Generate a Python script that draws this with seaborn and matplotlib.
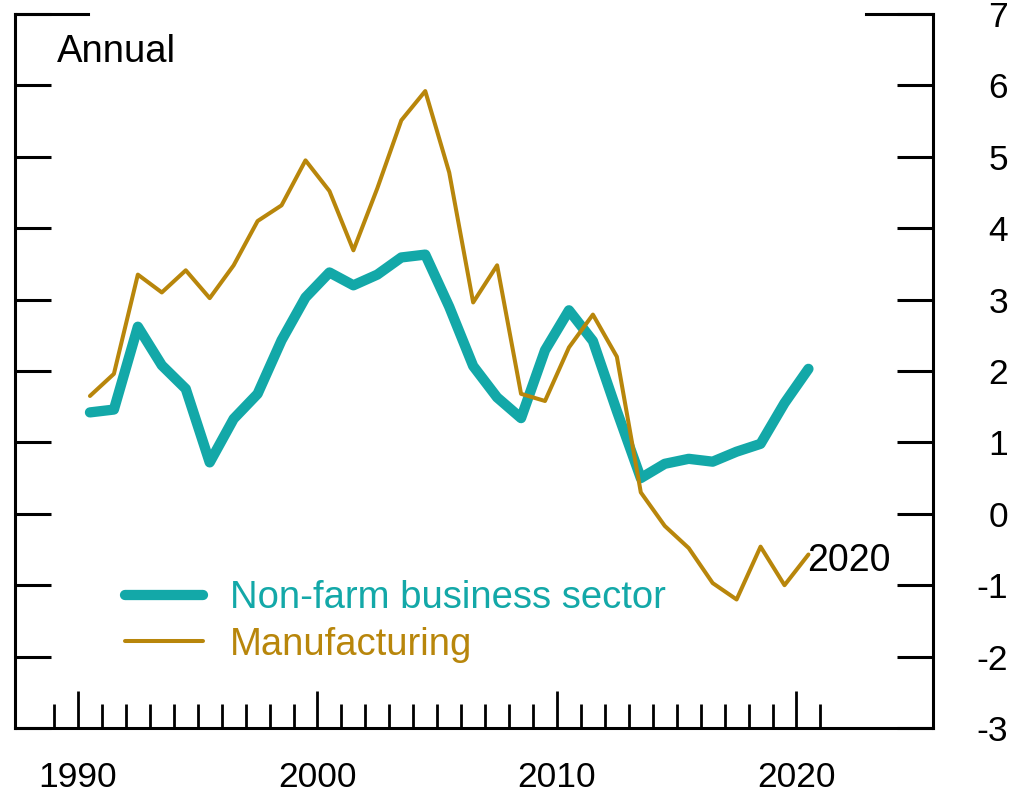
import numpy as np
import pandas as pd
import matplotlib
matplotlib.use("Agg")
import matplotlib.pyplot as plt
from matplotlib.ticker import FixedLocator
import seaborn as sns

sns.set_theme(style="white")
plt.rcParams["font.family"] = ["Liberation Sans", "DejaVu Sans"]
plt.rcParams["axes.unicode_minus"] = False

# data (annual, % change)
years = list(range(1990, 2021))
nonfarm = [1.42, 1.46, 2.62, 2.08, 1.75, 0.72, 1.33, 1.68, 2.43, 3.03,
           3.38, 3.20, 3.35, 3.59, 3.63, 2.90, 2.07, 1.63, 1.34, 2.29,
           2.85, 2.42, 1.44, 0.50, 0.70, 0.77, 0.73, 0.87, 0.98, 1.55,
           2.03]
manufacturing = [1.65, 1.96, 3.35, 3.10, 3.41, 3.02, 3.48, 4.10, 4.32, 4.95,
                 4.52, 3.69, 4.56, 5.51, 5.92, 4.78, 2.96, 3.48, 1.68, 1.58,
                 2.33, 2.79, 2.20, 0.30, -0.17, -0.48, -0.97, -1.20, -0.46, -1.00,
                 -0.57]
series_names = ["Non-farm business sector", "Manufacturing"]
colors = ["#13a8a8", "#b8860b"]

df = pd.DataFrame({"year": np.array(years) + 0.5,
                   series_names[0]: nonfarm,
                   series_names[1]: manufacturing})

fig = plt.figure(figsize=(10.2, 7.98), dpi=100)
ax = fig.add_axes([0.0147, 0.0877, 0.9, 0.8948])

sns.lineplot(data=df, x="year", y=series_names[0], ax=ax, color=colors[0],
             linewidth=7.4, solid_capstyle="round", solid_joinstyle="round",
             label=series_names[0])
sns.lineplot(data=df, x="year", y=series_names[1], ax=ax, color=colors[1],
             linewidth=2.9, solid_capstyle="round", solid_joinstyle="round",
             label=series_names[1])

ax.set_xlim(1987.37, 2025.7)
ax.set_ylim(-3, 7)
ax.set_xlabel("")
ax.set_ylabel("")

# frame
for s in ["left", "right", "bottom"]:
    ax.spines[s].set_linewidth(2.2)
    ax.spines[s].set_color("black")
ax.spines["top"].set_visible(False)
ax.plot([0, 0.08], [1, 1], transform=ax.transAxes, color="black", lw=2.2,
        clip_on=False, solid_capstyle="projecting")
ax.plot([0.927, 1], [1, 1], transform=ax.transAxes, color="black", lw=2.2,
        clip_on=False, solid_capstyle="projecting")

# ticks
ax.xaxis.set_major_locator(FixedLocator([1990, 2000, 2010, 2020]))
ax.xaxis.set_minor_locator(FixedLocator(list(range(1989, 2022))))
ax.set_yticks(range(-3, 8))
ax.tick_params(axis="x", which="major", direction="in", length=27, width=2,
               color="black", labelcolor="black", labelsize=25.5, pad=24,
               bottom=True, top=False)
ax.tick_params(axis="x", which="minor", direction="in", length=17, width=2,
               color="black", bottom=True, top=False)
ax.tick_params(axis="y", which="major", direction="in", length=26, width=2.2,
               color="black", labelcolor="black", left=True, right=True,
               labelleft=False, labelright=True, labelsize=25.5, pad=54)
for lab in ax.get_yticklabels():
    lab.set_horizontalalignment("right")
ax.grid(False)

# annotations
ax.text(0.046, 0.947, "Annual", transform=ax.transAxes, fontsize=27.5,
        ha="left", va="center", color="black")
ax.annotate("2020", xy=(years[-1] + 0.5, manufacturing[-1]), xytext=(-1, -5),
            textcoords="offset points", fontsize=27, ha="left", va="center",
            color="black")

leg = ax.legend(loc="center left", bbox_to_anchor=(0.12, 0.149), frameon=False,
                fontsize=27.5, handlelength=2.05, handletextpad=0.7,
                labelspacing=0.27, borderpad=0, borderaxespad=0,
                labelcolor="linecolor")

fig.savefig("out.png", dpi=100)
